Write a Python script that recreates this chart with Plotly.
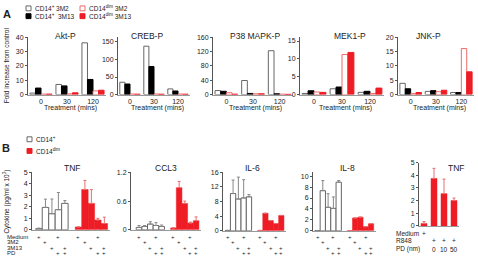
import plotly.graph_objects as go

W, H = 478, 262
FONT = "Liberation Sans, Arial, sans-serif"

# ---------------- Panel A data (fold increase) ----------------
times = ["0", "30", "120"]
akt_p_3m2 = [1.0, 7.0, 36.0]
akt_p_3m13 = [4.5, 6.0, 10.5]
akt_d_3m2 = [0.3, 0.5, 2.5]
akt_d_3m13 = [0.3, 1.2, 3.0]
creb_p_3m2 = [35, 138, 16]
creb_p_3m13 = [30, 80, 10]
creb_d_3m2 = [1.5, 1.5, 1.5]
creb_d_3m13 = [1.0, 1.0, 1.0]
p38_p_3m2 = [11, 39, 122]
p38_p_3m13 = [9, 3, 2]
p38_d_3m2 = [5, 2, 1]
p38_d_3m13 = [1, 2, 0.5]
mek_p_3m2 = [0.3, 1.6, 0.6]
mek_p_3m13 = [1.05, 2.1, 0.9]
mek_d_3m2 = [0.7, 11.2, 0.3]
mek_d_3m13 = [0.6, 11.8, 1.8]
jnk_p_3m2 = [3.9, 1.1, 0.7]
jnk_p_3m13 = [2.0, 1.35, 0.7]
jnk_d_3m2 = [0.3, 1.0, 16.0]
jnk_d_3m13 = [0.7, 1.5, 7.9]

# ---------------- Panel B data (cytokines) ----------------
b_conditions = ["Medium", "3M2", "3M13", "PD", "3M13+PD"]
b_medium = [1, 0, 0, 1, 0]
b_3m2 = [0, 1, 0, 0, 0]
b_3m13 = [0, 0, 1, 0, 1]
b_pd = [0, 0, 0, 1, 1]

tnf_pos = [0.1, 1.95, 1.4, 1.75, 2.3]
tnf_pos_err = [0.05, 0.72, 1.28, 1.5, 0.25]
tnf_dim = [0.25, 3.5, 2.3, 0.85, 0.55]
tnf_dim_err = [0.0, 0.8, 1.2, 0.15, 0.55]
ccl3_pos = [0.05, 0.07, 0.12, 0.09, 0.07]
ccl3_pos_err = [0.04, 0.02, 0.05, 0.06, 0.03]
ccl3_dim = [0.04, 0.88, 0.55, 0.14, 0.19]
ccl3_dim_err = [0.0, 0.13, 0.05, 0.02, 0.08]
il6_pos = [0.1, 10.2, 8.7, 9.0, 9.3]
il6_pos_err = [0.0, 3.7, 6.0, 5.0, 0.6]
il6_dim = [0.1, 4.8, 2.8, 2.0, 4.2]
il6_dim_err = [0.0, 0.0, 0.0, 0.0, 0.0]
il8_pos = [0.05, 7.35, 4.3, 4.1, 8.9]
il8_pos_err = [0.0, 1.85, 2.5, 2.1, 0.3]
il8_dim = [0.05, 2.35, 2.5, 0.75, 1.3]
il8_dim_err = [0.0, 0.0, 0.0, 0.0, 0.0]

r848_conditions = ["Medium", "R848", "R848+PD10", "R848+PD50"]
r848_medium = ["+", "", "", ""]
r848_r848 = ["", "+", "+", "+"]
r848_pd = ["", "0", "10", "50"]
tnf_r848 = [0.2, 3.75, 2.55, 2.0]
tnf_r848_err = [0.15, 0.8, 1.15, 0.2]

# ---------------- styling ----------------
WHITE_LINE = "#666666"
RED = "#ee1c24"
PINK = "#f06a6a"
TXT = "#222222"


def px(x):
    return x / W


def py(y):
    return 1 - y / H


fig = go.Figure()
ann = []
shapes = []


def text(x, y, s, size=7, xanchor="center", angle=0, bold=False, xref="paper"):
    ann.append(dict(x=(px(x) if xref == "paper" else x), y=py(y), xref=xref, yref="paper",
                    text=("<b>%s</b>" % s if bold else s), showarrow=False, borderpad=0,
                    textangle=angle, xanchor=xanchor, yanchor="middle",
                    font=dict(size=size, color=TXT, family=FONT)))


axis_common_y = dict(showline=True, linecolor="#555", linewidth=1, ticks="outside",
                     ticklen=2, tickcolor="#555", tickfont=dict(size=7, color=TXT, family=FONT),
                     showgrid=False, zeroline=False, fixedrange=True)
axis_common_x = dict(showline=True, linecolor="#999", linewidth=1, showgrid=False,
                     zeroline=False, fixedrange=True)

# ---------------- Panel A ----------------
a_panels = [
    ("Akt-P", akt_p_3m2, akt_p_3m13, akt_d_3m2, akt_d_3m13, (28, 106), [0, 40], 10, 65),
    ("CREB-P", creb_p_3m2, creb_p_3m13, creb_d_3m2, creb_d_3m13, (118, 190), [0, 164], 50, 147),
    ("P38 MAPK-P", p38_p_3m2, p38_p_3m13, p38_d_3m2, p38_d_3m13, (213, 293), [0, 160], 40, 255),
    ("MEK1-P", mek_p_3m2, mek_p_3m13, mek_d_3m2, mek_d_3m13, (300, 384), [0, 16.1], 5, 350),
    ("JNK-P", jnk_p_3m2, jnk_p_3m13, jnk_d_3m2, jnk_d_3m13, (398, 474), [0, 20], 5, 428),
]
A_TOP, A_BOT = 34, 93
for k, (title, s1, s2, s3, s4, (x0, x1), yr, dt, tx) in enumerate(a_panels, start=1):
    xa = "x" if k == 1 else "x%d" % k
    ya = "y" if k == 1 else "y%d" % k
    styles = [
        (s1, "white", WHITE_LINE),
        (s2, "black", "black"),
        (s3, "white", PINK),
        (s4, RED, RED),
    ]
    for vals, fill, line in styles:
        fig.add_trace(go.Bar(x=times, y=vals, xaxis=xa, yaxis=ya, showlegend=False,
                             marker=dict(color=fill, line=dict(color=line, width=1))))
    fig.layout["xaxis" if k == 1 else "xaxis%d" % k] = dict(
        axis_common_x, domain=[px(x0), px(x1)], anchor=ya, type="category",
        categoryorder="array", categoryarray=times, ticks="",
        tickfont=dict(size=7, color=TXT, family=FONT))
    fig.layout["yaxis" if k == 1 else "yaxis%d" % k] = dict(
        axis_common_y, domain=[py(A_BOT), py(A_TOP)], anchor=xa, range=yr, dtick=dt)
    text(tx, 33, title, size=8.5)
    text((x0 + x1) / 2 + 3, 107, "Treatment (mins)", size=7)

text(6, 63, "Fold increase from control", size=6.5, angle=-90)
text(7, 10, "A", size=11, bold=True)

# legend A
leg_a = [
    (26, 4.5, "white", WHITE_LINE, "CD14<sup>+</sup> 3M2"),
    (26, 12.5, "black", "black", "CD14<sup>+</sup>  3M13"),
    (80, 4.5, "white", PINK, "CD14<sup>dim</sup> 3M2"),
    (80, 12.5, RED, RED, "CD14<sup>dim</sup> 3M13"),
]
for lx, ly, fill, line, lab in leg_a:
    shapes.append(dict(type="rect", xref="paper", yref="paper", x0=px(lx), x1=px(lx + 5),
                       y0=py(ly + 2.5), y1=py(ly - 2.5), fillcolor=fill,
                       line=dict(color=line, width=1)))
    text(lx + 8, ly, lab, size=6.5, xanchor="left")

# ---------------- Panel B ----------------
GROUP_OFFSET = 6.1
b_panels = [
    ("TNF", tnf_pos, tnf_pos_err, tnf_dim, tnf_dim_err, 32, 6.47, 1.08, [0, 5], 1, 72, 232),
    ("CCL3", ccl3_pos, ccl3_pos_err, ccl3_dim, ccl3_dim_err, 131, 5.65, 1.42, [0, 1.2], 0.6, 166, 232),
    ("IL-6", il6_pos, il6_pos_err, il6_dim, il6_dim_err, 223, 5.3, 0.9, [0, 16], 4, 252, 233),
    ("IL-8", il8_pos, il8_pos_err, il8_dim, il8_dim_err, 313, 5.3, 0.85, [0, 10.7], 2, 347, 233),
]
B_TOP = 173
idx = list(range(len(b_conditions)))
rows = [("Medium", b_medium, 239.5), ("3M2", b_3m2, 245), ("3M13", b_3m13, 250.5), ("PD", b_pd, 256)]
for j, (title, pv, pe, dv, de, x0, u, pad, yr, dt, tx, bot) in enumerate(b_panels):
    k = 6 + j
    xa, ya = "x%d" % k, "y%d" % k
    right = 4 + GROUP_OFFSET + 0.9
    x1 = x0 + (right + pad) * u
    xs_red = [i + GROUP_OFFSET for i in idx]
    fig.add_trace(go.Bar(x=idx, y=pv, xaxis=xa, yaxis=ya, showlegend=False, width=1,
                         offsetgroup="g%d" % k,
                         marker=dict(color="white", line=dict(color=WHITE_LINE, width=1)),
                         error_y=dict(type="data", array=pe, arrayminus=[0] * 5, symmetric=False,
                                      color="#888", thickness=1, width=1.5)))
    fig.add_trace(go.Bar(x=xs_red, y=dv, xaxis=xa, yaxis=ya, showlegend=False, width=1,
                         offsetgroup="g%d" % k,
                         marker=dict(color=RED, line=dict(color=RED, width=0.5)),
                         error_y=dict(type="data", array=de, arrayminus=[0] * 5, symmetric=False,
                                      color="#e87070", thickness=1, width=1.5)))
    fig.layout["xaxis%d" % k] = dict(axis_common_x, domain=[px(x0), px(x1)], anchor=ya,
                                     range=[-pad, right], showticklabels=False, ticks="")
    fig.layout["yaxis%d" % k] = dict(axis_common_y, domain=[py(bot), py(B_TOP)], anchor=xa,
                                     range=yr, dtick=dt)
    text(tx, 168, title, size=8.5)
    for name, flags, ry in rows:
        for i, f in enumerate(flags):
            if f:
                text(i, ry, "+", size=6, xref=xa)
                text(i + GROUP_OFFSET, ry, "+", size=6, xref=xa)

for name, flags, ry in rows:
    text(6, ry, name, size=6, xanchor="left")

text(7, 203, "Cytokine (pg/ml x 10<sup>3</sup>)", size=6.5, angle=-90)
text(6, 148, "B", size=11, bold=True)

leg_b = [(27, 139, "white", WHITE_LINE, "CD14<sup>+</sup>"), (27, 151, RED, RED, "CD14<sup>dim</sup>")]
for lx, ly, fill, line, lab in leg_b:
    shapes.append(dict(type="rect", xref="paper", yref="paper", x0=px(lx), x1=px(lx + 5),
                       y0=py(ly + 2.5), y1=py(ly - 2.5), fillcolor=fill,
                       line=dict(color=line, width=1)))
    text(lx + 8, ly, lab, size=6.5, xanchor="left")

# R848 TNF panel
fig.add_trace(go.Bar(x=r848_conditions, y=tnf_r848, xaxis="x10", yaxis="y10", showlegend=False,
                     width=0.6, marker=dict(color=RED, line=dict(color=RED, width=0.5)),
                     error_y=dict(type="data", array=tnf_r848_err, arrayminus=[0] * 4,
                                  symmetric=False, color="#e87070", thickness=1, width=1.5)))
fig.layout["xaxis10"] = dict(axis_common_x, domain=[px(419), px(459)], anchor="y10",
                             type="category", categoryorder="array",
                             categoryarray=r848_conditions, showticklabels=False, ticks="")
fig.layout["yaxis10"] = dict(axis_common_y, domain=[py(228), py(163)], anchor="x10",
                             range=[0, 5], dtick=1)
text(456, 168, "TNF", size=8.5)
for name, vals, ry in [("Medium", r848_medium, 236), ("R848", r848_r848, 243),
                       ("PD (nm)", r848_pd, 252)]:
    text(395, ry, name, size=6.5, xanchor="left")
    for c, v in zip(r848_conditions, vals):
        if v:
            text(c, ry, v, size=6.5, xref="x10")

fig.update_layout(width=W, height=H, margin=dict(l=0, r=0, t=0, b=0),
                  paper_bgcolor="white", plot_bgcolor="white", barmode="group",
                  bargap=0.15, bargroupgap=0, annotations=ann, shapes=shapes,
                  font=dict(family=FONT), hovermode=False)
fig.write_html("out.html", config={"displayModeBar": False, "staticPlot": True},
               post_script="document.body.style.margin='0';document.body.style.padding='0';")
